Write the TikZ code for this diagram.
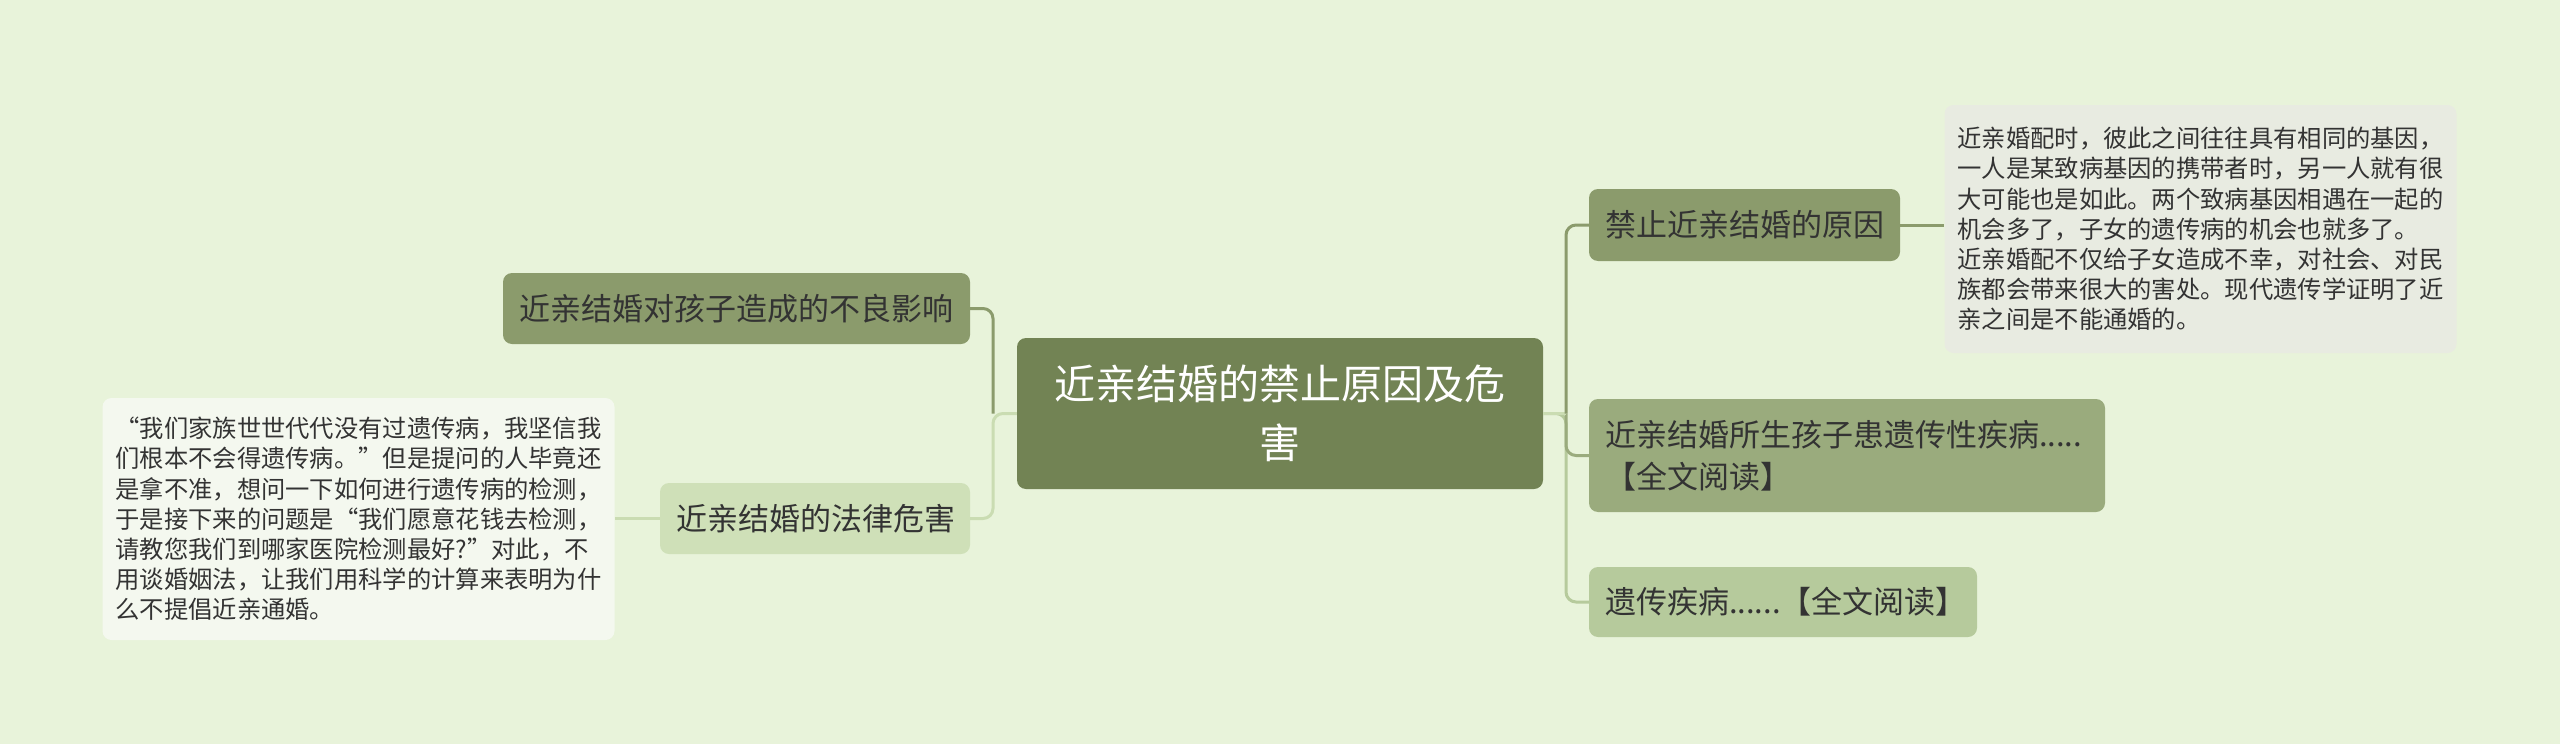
\documentclass[tikz,border=0pt]{standalone}
\usepackage{fontspec}
\setmainfont{Noto Sans CJK SC}
\definecolor{bgc}{HTML}{E8F3DA}
\definecolor{cen}{HTML}{728354}
\definecolor{dk}{HTML}{8B9B6C}
\definecolor{md}{HTML}{9AAB7D}
\definecolor{lt}{HTML}{B6CA9C}
\definecolor{ll}{HTML}{CFE0B8}
\definecolor{lnote}{HTML}{F4F8EF}
\definecolor{rnote}{HTML}{E8EBE1}
\definecolor{txt}{HTML}{333333}
\definecolor{lline}{HTML}{CADCB2}
\tikzset{
  box/.style={rounded corners=9pt, inner ysep=0pt, align=left, text=txt, anchor=center},
  topic/.style={box, font=\fontsize{31}{42}\selectfont, inner xsep=16pt},
  note/.style={box, font=\fontsize{24.3}{30.2}\selectfont, inner xsep=13pt},
  conn/.style={line width=3pt, rounded corners=10pt}
}
\begin{document}
\begin{tikzpicture}[x=1pt,y=-1pt]
\fill[bgc] (0,0) rectangle (2560,744);
\useasboundingbox (0,0) rectangle (2560,744);

% nodes
\node[box, fill=cen, text=white, align=center, font=\fontsize{41}{59}\selectfont,
  minimum width=526pt, minimum height=151pt, text width=500pt] (C) at (1280,413.5)
  {近亲结婚的禁止原因及危\\害};

\node[topic, fill=dk, minimum width=467pt, minimum height=71pt, text width=435pt] (L1) at (736.5,308.5)
  {近亲结婚对孩子造成的不良影响};
\node[topic, fill=ll, minimum width=310pt, minimum height=71pt, text width=278pt] (L2) at (815,518.5)
  {近亲结婚的法律危害};
\node[note, fill=lnote, minimum width=509pt, minimum height=242pt, text width=486pt] (LN) at (358.5,519)
  {“我们家族世世代代没有过遗传病，我坚信我\\
   们根本不会得遗传病。”但是提问的人毕竟还\\
   是拿不准，想问一下如何进行遗传病的检测，\\
   于是接下来的问题是“我们愿意花钱去检测，\\
   请教您我们到哪家医院检测最好?”对此，不\\
   用谈婚姻法，让我们用科学的计算来表明为什\\
   么不提倡近亲通婚。};

\node[topic, fill=dk, minimum width=311pt, minimum height=72pt, text width=279pt] (R1) at (1744.5,225)
  {禁止近亲结婚的原因};
\node[note, fill=rnote, minimum width=509pt, minimum height=248pt, text width=486pt] (RN) at (2200.5,229)
  {近亲婚配时，彼此之间往往具有相同的基因，\\
   一人是某致病基因的携带者时，另一人就有很\\
   大可能也是如此。两个致病基因相遇在一起的\\
   机会多了，子女的遗传病的机会也就多了。\\
   近亲婚配不仅给子女造成不幸，对社会、对民\\
   族都会带来很大的害处。现代遗传学证明了近\\
   亲之间是不能通婚的。};
\node[topic, fill=md, minimum width=516pt, minimum height=113pt, text width=484pt] (R2) at (1847,455.5)
  {近亲结婚所生孩子患遗传性疾病.....\\【全文阅读】};
\node[topic, fill=lt, minimum width=388pt, minimum height=70pt, text width=356pt] (R3) at (1783,602)
  {遗传疾病......【全文阅读】};

% junctions
\coordinate (JR) at (1566,413.5);
\coordinate (JL) at (993,413.5);

% right connectors
\draw[conn, lt] (C.east) -- (JR) |- (R3.west);
\draw[conn, md] (JR) |- (R2.west);
\draw[conn, lline] (C.east) -- (JR);
\draw[conn, dk] (JR) |- (R1.west);
\draw[conn, dk] (R1.east) -- (RN.west |- R1.east);

% left connectors
\draw[conn, lline] (C.west) -- (JL) |- (L2.east);
\draw[conn, dk] (JL) |- (L1.east);
\draw[conn, lline] (L2.west) -- (LN.east |- L2.west);
\end{tikzpicture}
\end{document}
